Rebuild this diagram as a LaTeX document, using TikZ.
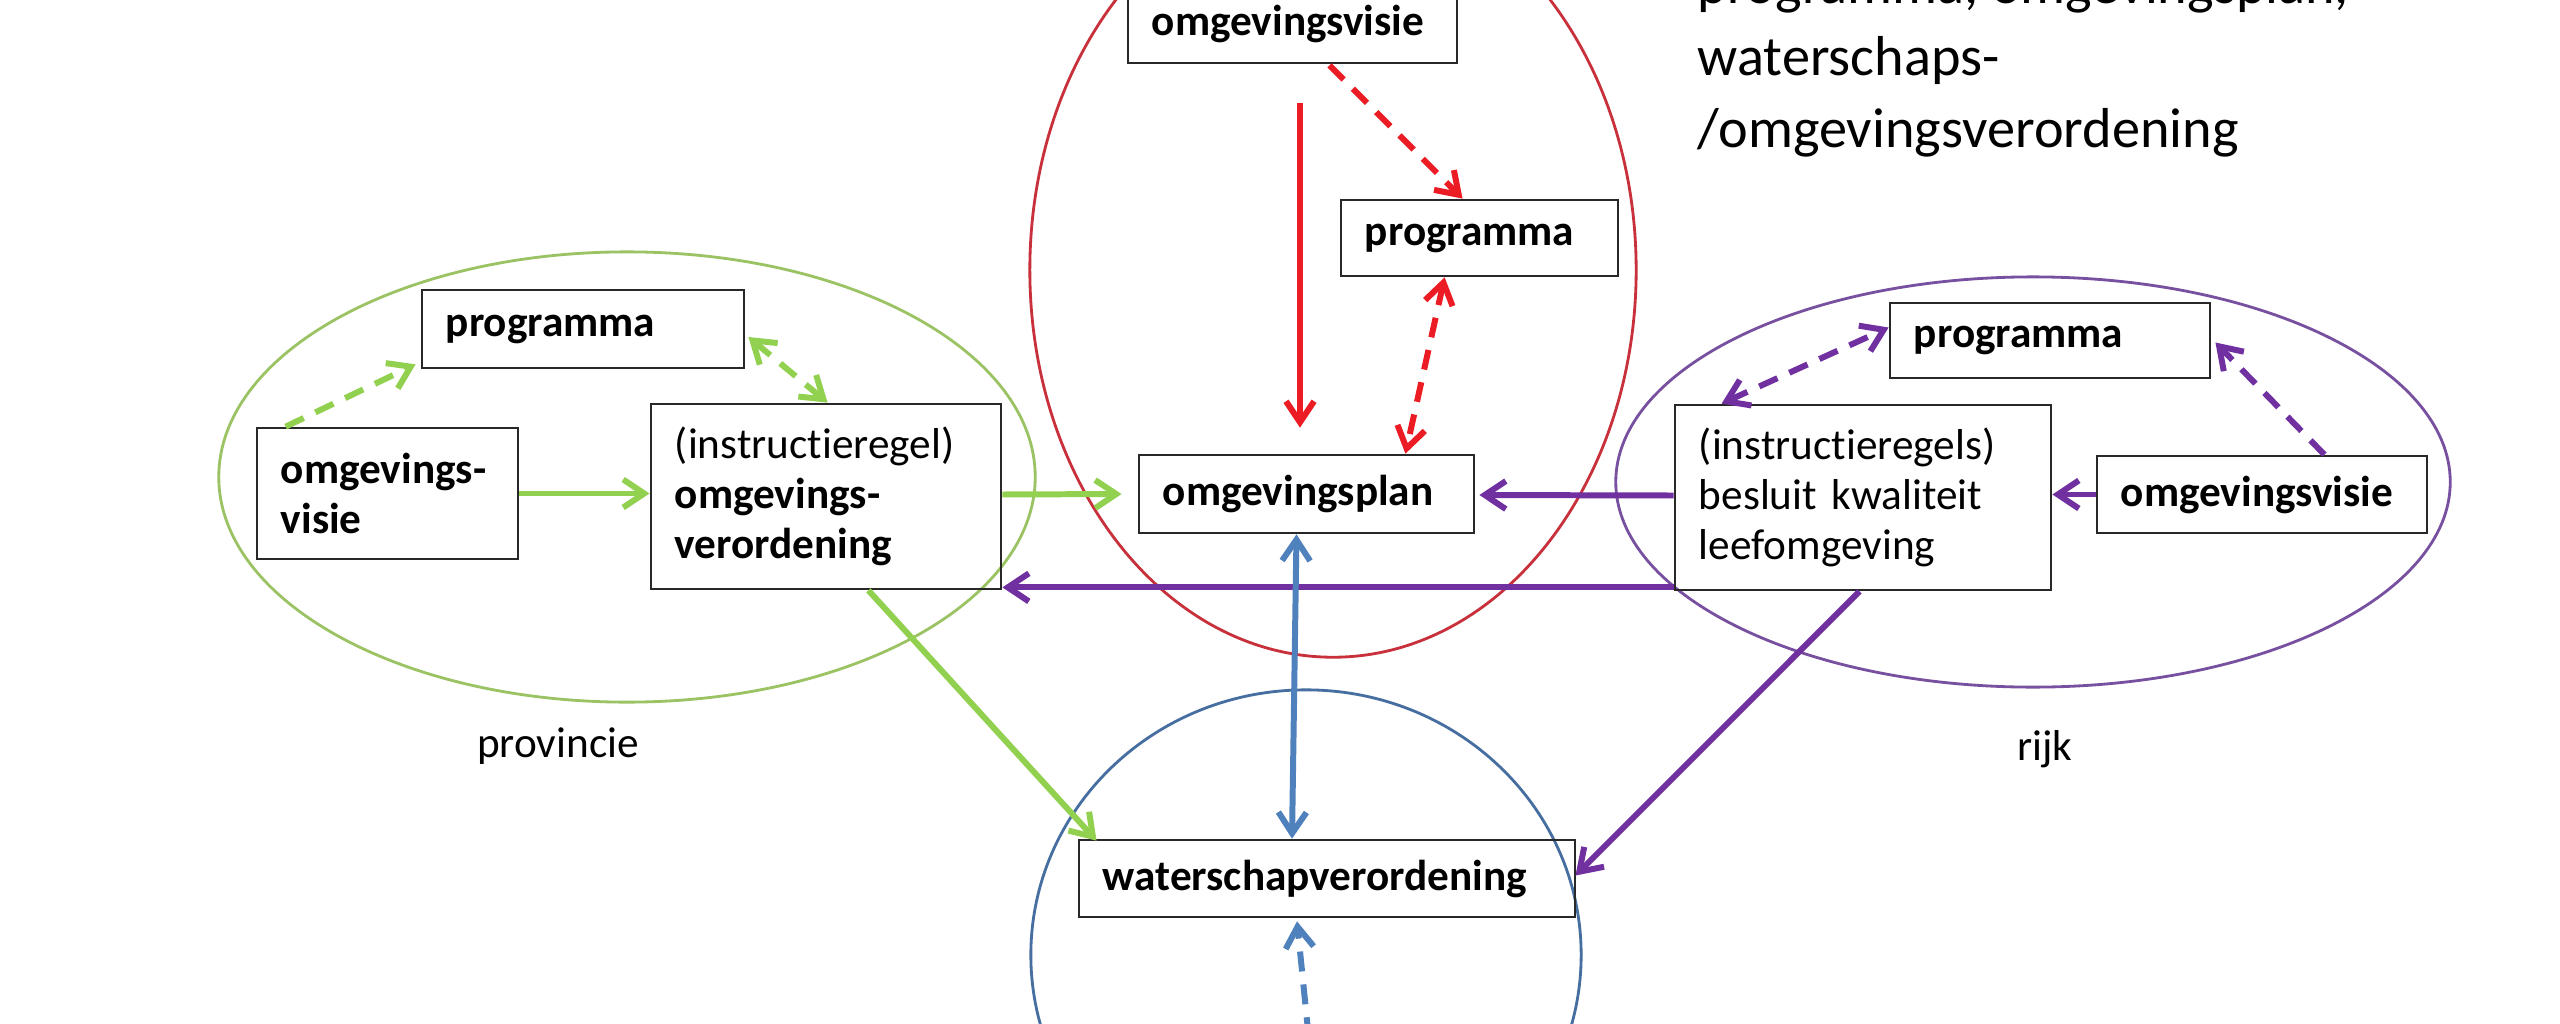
\documentclass[tikz,border=0pt]{standalone}
\usepackage{fontspec}
\setmainfont{Carlito}[Ligatures=NoCommon]
\usetikzlibrary{arrows.meta,calc}
\definecolor{cgreen}{RGB}{146,208,80}
\definecolor{cpurple}{RGB}{112,48,160}
\definecolor{cblue}{RGB}{79,129,189}
\definecolor{cred}{RGB}{235,28,36}
\definecolor{cellred}{RGB}{200,48,60}
\definecolor{cellgreen}{RGB}{155,195,100}
\definecolor{cellpurple}{RGB}{120,80,160}
\definecolor{cellblue}{RGB}{70,110,160}
\definecolor{boxline}{RGB}{40,40,40}
\hyphenpenalty=10000
\exhyphenpenalty=10000
\begin{document}
\begin{tikzpicture}[x=0.01cm,y=-0.01cm,
  box/.style={draw=boxline, line width=0.75pt, align=left, inner xsep=0.24cm, inner ysep=0pt,
    font=\fontsize{12.3}{14.2}\selectfont},
  lbl/.style={inner sep=0pt, font=\fontsize{12.3}{14.2}\selectfont},
  big/.style={inner sep=0pt, font=\fontsize{16}{20.5}\selectfont},
  arr/.style={line width=1.7pt, -{Straight Barb[length=0.21cm,width=0.28cm]}},
  darr/.style={line width=1.7pt, {Straight Barb[length=0.21cm,width=0.28cm]}-{Straight Barb[length=0.21cm,width=0.28cm]}},
  dsh/.style={dash pattern=on 0.2cm off 0.13cm},
  ell/.style={line width=0.8pt}
]
\useasboundingbox[fill=white] (0,0) rectangle (2560,1024);

% region ellipses
\draw[ell, cellgreen] (627,477) ellipse [x radius=4.08cm, y radius=2.25cm];
\draw[ell, cellred] (1333,270) ellipse [x radius=3.03cm, y radius=3.87cm];
\draw[ell, cellpurple] (2033,482) ellipse [x radius=4.17cm, y radius=2.05cm];
\draw[ell, cellblue] (1306,955) ellipse [x radius=2.75cm, y radius=2.65cm];

% boxes
\node[box, text width=2.13cm, minimum height=1.31cm] (ovG) at (387.5,493.5) {\textbf{omgevings-}\\\textbf{visie}};
\node[box, text width=2.74cm, minimum height=0.78cm] (progG) at (583,329) {\textbf{programma}};
\node[box, text width=3.02cm, minimum height=1.85cm] (verG) at (826,496.5) {(instructieregel)\\\textbf{omgevings-}\\\textbf{verordening}};
\node[box, text width=2.81cm, minimum height=0.78cm] (ovR) at (1292.5,24) {\textbf{omgevingsvisie}};
\node[box, text width=2.29cm, minimum height=0.76cm] (progR) at (1479.5,238) {\textbf{programma}};
\node[box, text width=2.87cm, minimum height=0.78cm] (plan) at (1306.5,494) {\textbf{omgevingsplan}};
\node[box, text width=2.72cm, minimum height=0.75cm] (progP) at (2050,340.5) {\textbf{programma}};
\node[box, text width=3.28cm, minimum height=1.85cm] (besluit) at (1863,497.5) {(instructieregels)\\\mbox{besluit kwaliteit}\\leefomgeving};
\node[box, text width=2.82cm, minimum height=0.77cm] (ovP) at (2262,494.5) {\textbf{omgevingsvisie}};
\node[box, text width=4.48cm, minimum height=0.77cm] (water) at (1327,878.5) {\textbf{waterschapverordening}};

% labels
\node[lbl, anchor=base] (prov) at (558,757) {provincie};
\node[lbl, anchor=base] (rijk) at (2045,760) {rijk};
\node[big, anchor=base west] (t1) at (1697,3) {programma, omgevingsplan,};
\node[big, anchor=base west] (t2) at (1697,75) {waterschaps-};
\node[big, anchor=base west] (t3) at (1697,147) {/omgevingsverordening};

% green connectors
\draw[arr, cgreen] (ovG.east) -- (ovG.east -| verG.west);
\draw[arr, cgreen, dsh] ($(ovG.north west)+(30,0)$) -- ($(progG.south west)+(-5,-5)$);
\draw[darr, cgreen, dsh] ($(progG.east)+(3,8)$) -- ($(verG.north west)+(178,0)$);
\draw[arr, cgreen] ($(verG.east)+(0,-2)$) -- ($(plan.west)+(-16,0)$);
\draw[arr, cgreen] ($(verG.south east)+(-134,0)$) -- ($(water.north west)+(19,2)$);

% red connectors
\draw[arr, cred] ($(ovR.south)+(7.5,39)$) -- ($(plan.north)+(-6.5,-26)$);
\draw[arr, cred, dsh] ($(ovR.south)+(37,1)$) -- ($(progR.north west)+(123,0)$);
\draw[darr, cred, dsh] ($(progR.south west)+(105,0)$) -- ($(plan.north east)+(-70,0)$);

% purple connectors
\draw[arr, cpurple] (ovP.west) -- (ovP.west -| besluit.east);
\draw[darr, cpurple, dsh] ($(besluit.north west)+(48,0)$) -- ($(progP.west)+(0,-13)$);
\draw[arr, cpurple, dsh] ($(ovP.north east)+(-104,0)$) -- ($(progP.east)+(4,2)$);
\draw[arr, cpurple] ($(besluit.west)+(0,-2)$) -- ($(plan.east)+(4,1)$);
\draw[arr, cpurple] ($(besluit.south west)+(0,-4)$) -- ($(verG.south east)+(0,-3)$);
\draw[arr, cpurple] ($(besluit.south west)+(186,0)$) -- ($(water.east)+(-1,-3)$);

% blue connectors
\coordinate (wsrc) at (1312,1070);
\draw[darr, cblue] ($(plan.south)+(-10,0)$) -- ($(water.north)+(-35,0)$);
\draw[arr, cblue, dsh] (wsrc) -- ($(water.south)+(-30,3)$);
\end{tikzpicture}
\end{document}
